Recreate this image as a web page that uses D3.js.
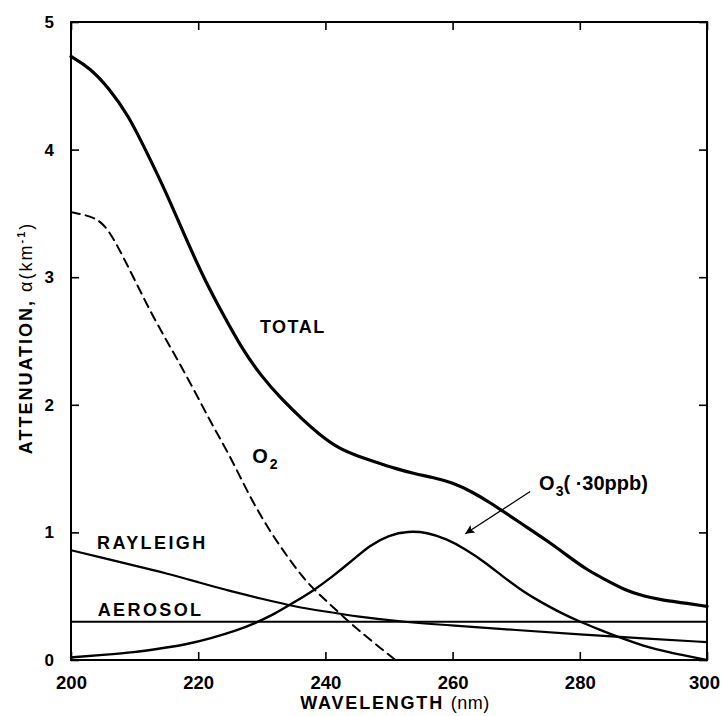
<!DOCTYPE html>
<html lang="en">
<head>
	<meta charset="utf-8">
	<script src="https://d3js.org/d3.v7.min.js"></script>
	<style>
		body{ margin:0; background:white; }
		text{ font-family:"Liberation Sans", Arial, sans-serif; font-weight:bold; fill:black; }
		.curve{ fill:none; stroke:black; stroke-linejoin:round; stroke-linecap:round; }
	</style>
</head>
<body>
	<script>
		var width = 722, height = 716;

		// wavelength (nm) / attenuation (km^-1)
		var totalWl   = [200, 203, 206, 209, 212, 215, 218, 221, 224, 227, 230, 233, 236.5, 239, 242, 245, 248, 251, 254, 257, 260, 263, 266, 269, 272, 275, 278, 281, 284, 287, 290, 293, 296, 300];
		var totalVal  = [4.73, 4.64, 4.48, 4.27, 3.97, 3.66, 3.31, 2.98, 2.70, 2.43, 2.22, 2.05, 1.88, 1.77, 1.66, 1.60, 1.55, 1.50, 1.46, 1.43, 1.39, 1.32, 1.23, 1.13, 1.03, 0.93, 0.82, 0.71, 0.63, 0.55, 0.50, 0.47, 0.45, 0.42];

		var o2Wl      = [200, 203, 205, 207, 210, 213, 216, 219, 222, 225, 228, 231, 234, 237, 240, 243, 246, 249, 251];
		var o2Val     = [3.51, 3.48, 3.43, 3.28, 2.98, 2.68, 2.42, 2.15, 1.86, 1.60, 1.29, 1.03, 0.81, 0.61, 0.47, 0.33, 0.20, 0.08, 0.0];

		var o3Wl      = [200, 205, 210, 214, 218, 222, 226, 229, 232, 235, 238, 241, 244, 247, 250, 253, 256, 259, 262, 265, 268, 271, 274, 277, 280, 283, 286, 290, 294, 297, 300];
		var o3Val     = [0.02, 0.04, 0.06, 0.09, 0.12, 0.17, 0.23, 0.29, 0.36, 0.45, 0.54, 0.65, 0.77, 0.90, 0.98, 1.01, 1.00, 0.95, 0.87, 0.77, 0.65, 0.54, 0.45, 0.37, 0.30, 0.24, 0.18, 0.11, 0.06, 0.03, 0.0];

		var rayWl     = [200, 205, 210, 215, 220, 225, 230, 235, 240, 245, 252, 260, 270, 280, 290, 300];
		var rayVal    = [0.86, 0.80, 0.74, 0.68, 0.61, 0.54, 0.48, 0.42, 0.38, 0.34, 0.30, 0.27, 0.235, 0.20, 0.17, 0.14];

		var aeroWl    = [200, 300];
		var aeroVal   = [0.30, 0.30];

		var xTicks = [200, 220, 240, 260, 280, 300];
		var yTicks = [0, 1, 2, 3, 4, 5];

		// label anchors in data units
		var labels = [
			{ text: "TOTAL",    wl: 229.7, v: 2.56 },
			{ text: "RAYLEIGH", wl: 204.1, v: 0.87 },
			{ text: "AEROSOL",  wl: 204.2, v: 0.345 }
		];

		var x = d3.scaleLinear().domain([200, 300]).range([71, 707]);
		var y = d3.scaleLinear().domain([0, 5]).range([660, 22]);

		var svg = d3.select("body").append("svg")
			.attr("width", width)
			.attr("height", height);

		var defs = svg.append("defs");
		defs.append("marker")
			.attr("id", "head")
			.attr("viewBox", "0 0 10 10")
			.attr("refX", 10).attr("refY", 5)
			.attr("markerWidth", 16).attr("markerHeight", 9)
			.attr("markerUnits", "userSpaceOnUse")
			.attr("orient", "auto")
			.append("path")
			.attr("d", "M0,0 L10,5 L0,10 L2,5 Z")
			.attr("fill", "black");

		function zip(a, b){
			return a.map(function(d, i){ return [d, b[i]]; });
		}

		var line = d3.line()
			.x(function(d){ return x(d[0]); })
			.y(function(d){ return y(d[1]); })
			.curve(d3.curveBasis);

		var curves = svg.append("g").attr("id", "curves");

		curves.append("path").attr("class", "curve")
			.attr("d", line(zip(aeroWl, aeroVal)))
			.attr("stroke-width", 2);
		curves.append("path").attr("class", "curve")
			.attr("d", line(zip(rayWl, rayVal)))
			.attr("stroke-width", 2.2);
		curves.append("path").attr("class", "curve")
			.attr("d", line(zip(o3Wl, o3Val)))
			.attr("stroke-width", 2.4);
		curves.append("path").attr("class", "curve")
			.attr("d", line(zip(o2Wl, o2Val)))
			.attr("stroke-width", 2)
			.attr("stroke-linecap", "butt")
			.attr("stroke-dasharray", "9,6");
		curves.append("path").attr("class", "curve")
			.attr("d", line(zip(totalWl, totalVal)))
			.attr("stroke-width", 3.2);

		// frame with inward ticks on all four sides
		var frame = svg.append("g").attr("id", "frame");
		frame.append("rect")
			.attr("x", x(200)).attr("y", y(5))
			.attr("width", x(300) - x(200)).attr("height", y(0) - y(5))
			.attr("fill", "none").attr("stroke", "black").attr("stroke-width", 2);

		var axBottom = frame.append("g").attr("transform", "translate(0," + y(0) + ")")
			.call(d3.axisBottom(x).tickValues(xTicks).tickSizeInner(-8).tickSizeOuter(0).tickPadding(16).tickFormat(d3.format("d")));
		var axTop = frame.append("g").attr("transform", "translate(0," + y(5) + ")")
			.call(d3.axisTop(x).tickValues(xTicks).tickSizeInner(-8).tickSizeOuter(0).tickFormat(""));
		var axLeft = frame.append("g").attr("transform", "translate(" + x(200) + ",0)")
			.call(d3.axisLeft(y).tickValues(yTicks).tickSizeInner(-8).tickSizeOuter(0).tickPadding(17).tickFormat(d3.format("d")));
		var axRight = frame.append("g").attr("transform", "translate(" + x(300) + ",0)")
			.call(d3.axisRight(y).tickValues(yTicks).tickSizeInner(-8).tickSizeOuter(0).tickFormat(""));

		[axBottom, axTop, axLeft, axRight].forEach(function(g){
			g.select(".domain").remove();
			g.selectAll(".tick line").attr("stroke", "black").attr("stroke-width", 1.6);
		});
		axBottom.selectAll("text").attr("font-size", 18.5).attr("font-family", null).attr("font-weight", "bold");
		// keep the last label inside the window
		axBottom.selectAll(".tick").filter(function(d){ return d == 300; }).select("text").attr("dx", -3);
		axLeft.selectAll("text").attr("font-size", 17).attr("font-family", null).attr("font-weight", "bold");

		// axis titles
		svg.append("text")
			.attr("x", (x(200) + x(300)) / 2 + 6).attr("y", 709)
			.attr("text-anchor", "middle")
			.attr("font-size", 18)
			.attr("letter-spacing", 1.8)
			.text("WAVELENGTH ")
			.append("tspan").attr("font-weight", "normal").attr("letter-spacing", 0.5).text("(nm)");

		var yt = svg.append("text")
			.attr("transform", "translate(32," + 338 + ") rotate(-90)")
			.attr("text-anchor", "middle")
			.attr("font-size", 18)
			.attr("letter-spacing", 2);
		yt.append("tspan").text("ATTENUATION, ");
		yt.append("tspan").attr("font-weight", "normal").text("α(km");
		yt.append("tspan").attr("font-size", 11).attr("dy", -7).text("-1");
		yt.append("tspan").attr("font-weight", "normal").attr("dy", 7).text(")");

		// curve labels
		svg.append("g").selectAll("text")
			.data(labels).enter()
			.append("text")
			.attr("x", function(d){ return x(d.wl); })
			.attr("y", function(d){ return y(d.v); })
			.attr("font-size", 18)
			.attr("font-weight", function(d){ return d.text == "TOTAL" ? "normal" : "bold"; })
			.attr("letter-spacing", function(d){ return d.text == "TOTAL" ? 1.5 : 2.4; })
			.text(function(d){ return d.text; });

		var o2 = svg.append("text")
			.attr("x", x(228.5)).attr("y", y(1.54))
			.attr("font-size", 20).attr("font-weight", "normal");
		o2.append("tspan").text("O");
		o2.append("tspan").attr("font-size", 14).attr("dy", 6).attr("dx", 2).text("2");

		var o3 = svg.append("text")
			.attr("x", x(273.6)).attr("y", y(1.33))
			.attr("font-size", 20).attr("font-weight", "normal");
		o3.append("tspan").text("O");
		o3.append("tspan").attr("font-size", 14).attr("dy", 6).attr("dx", 1).text("3");
		o3.append("tspan").attr("dy", -6).text("( ·30ppb)");

		// arrow from the ozone label to its curve
		svg.append("line")
			.attr("x1", x(272.2)).attr("y1", y(1.32))
			.attr("x2", x(262.0)).attr("y2", y(0.99))
			.attr("stroke", "black").attr("stroke-width", 1.3)
			.attr("marker-end", "url(#head)");
	</script>
</body>
</html>
